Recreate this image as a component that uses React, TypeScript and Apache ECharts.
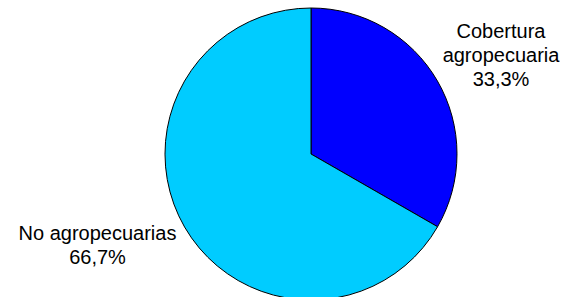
import React, { useEffect, useRef } from "react";
import * as echarts from "echarts";

const categories = ["Cobertura\nagropecuaria", "No agropecuarias"];
const values = [33.3, 66.7];
const percentLabels = ["33,3%", "66,7%"];
const colors = ["#0000FF", "#00CCFF"];

export default function App() {
  const ref = useRef<HTMLDivElement>(null);
  useEffect(() => {
    if (!ref.current) return;
    const chart = echarts.init(ref.current, undefined, { renderer: "svg" });
    const labelPos = [
      { x: 501, y: 55 },
      { x: 97.5, y: 245 },
    ];
    chart.setOption({
      animation: false,
      backgroundColor: "#ffffff",
      series: [
        {
          type: "pie",
          center: [311, 154],
          radius: 146,
          startAngle: 90,
          clockwise: true,
          avoidLabelOverlap: false,
          data: categories.map((name, i) => ({
            name,
            value: values[i],
            itemStyle: { color: colors[i] },
          })),
          itemStyle: { borderColor: "#000000", borderWidth: 1 },
          label: {
            show: true,
            position: "outside",
            formatter: (p: any) => `${p.name}\n${percentLabels[p.dataIndex]}`,
            fontFamily: "Liberation Sans, Arial, sans-serif",
            fontSize: 20,
            lineHeight: 24,
            color: "#000000",
            align: "center",
          },
          labelLine: { show: false },
          labelLayout: (params: any) => ({
            x: labelPos[params.dataIndex].x,
            y: labelPos[params.dataIndex].y,
            align: "center",
            verticalAlign: "middle",
          }),
          emphasis: { disabled: true },
        },
      ],
    });
    return () => chart.dispose();
  }, []);
  return (
    <div
      ref={ref}
      style={{ position: "fixed", left: 0, top: 0, width: 564, height: 297 }}
    />
  );
}
